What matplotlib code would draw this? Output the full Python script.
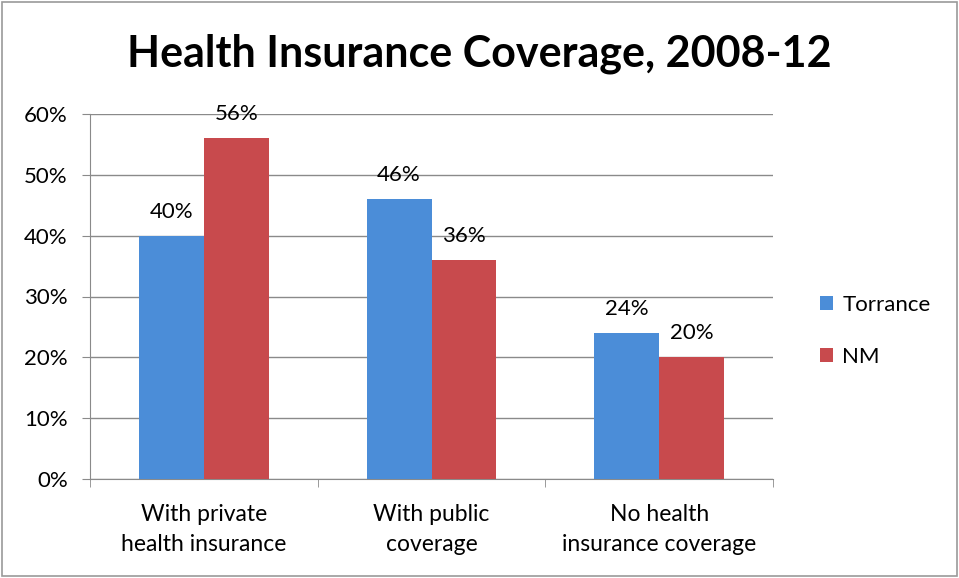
import matplotlib.pyplot as plt
import numpy as np
from matplotlib.patches import Rectangle

plt.rcParams['font.family'] = ['Lato', 'DejaVu Sans']

categories = ['With private\nhealth insurance', 'With public\ncoverage', 'No health\ninsurance coverage']
torrance = [40, 46, 24]
nm = [56, 36, 20]
yticks = [0, 10, 20, 30, 40, 50, 60]

blue = '#4B8DD8'
red = '#C84A4D'

fig = plt.figure(figsize=(9.59, 5.78), dpi=100)
ax = fig.add_axes([90 / 959, 1 - 479 / 578, (773 - 90) / 959, (479 - 114) / 578])

x = np.arange(len(categories))
w = 0.285
ax.bar(x - w / 2, torrance, w, color=blue, label='Torrance', zorder=3)
ax.bar(x + w / 2, nm, w, color=red, label='NM', zorder=3)

# value labels above each bar
for xi, v in zip(x - w / 2, torrance):
    ax.text(xi, v + 2.3, f'{v}%', ha='center', va='bottom', fontsize=16)
for xi, v in zip(x + w / 2, nm):
    ax.text(xi, v + 2.3, f'{v}%', ha='center', va='bottom', fontsize=16)

ax.set_xlim(-0.5, 2.5)
ax.set_ylim(0, 60)
ax.set_yticks(yticks)
ax.set_yticklabels([f'{t}%' for t in yticks], fontsize=16)
ax.yaxis.grid(True, color='#8a8a8a', linewidth=1, zorder=0)

ax.set_xticks(x)
ax.set_xticklabels(categories, fontsize=16.5, linespacing=1.55)
ax.tick_params(axis='x', length=0, pad=18)
ax.set_xticks([-0.5, 0.5, 1.5, 2.5], minor=True)
ax.tick_params(axis='x', which='minor', length=6, color='#8a8a8a')
ax.tick_params(axis='y', length=6, color='#8a8a8a', pad=10)

for s in ['top', 'right']:
    ax.spines[s].set_visible(False)
ax.spines['left'].set_color('#8a8a8a')
ax.spines['bottom'].set_color('#8a8a8a')

fig.text(0.5, 1 - 54 / 578, 'Health Insurance Coverage, 2008-12', ha='center', va='center',
         fontsize=31, fontweight='bold')

ax.legend(loc='center left', bbox_to_anchor=(800 / 959, 1 - 331 / 578), bbox_transform=fig.transFigure,
          frameon=False, fontsize=16, handlelength=0.6, handleheight=0.6, labelspacing=1.45,
          handletextpad=0.4)

fig.patches.append(Rectangle((2 / 959, 2 / 578), 955 / 959, 574 / 578, transform=fig.transFigure,
                             fill=False, edgecolor='#9a9a9a', linewidth=1.2))

fig.savefig('out.png', dpi=100)
